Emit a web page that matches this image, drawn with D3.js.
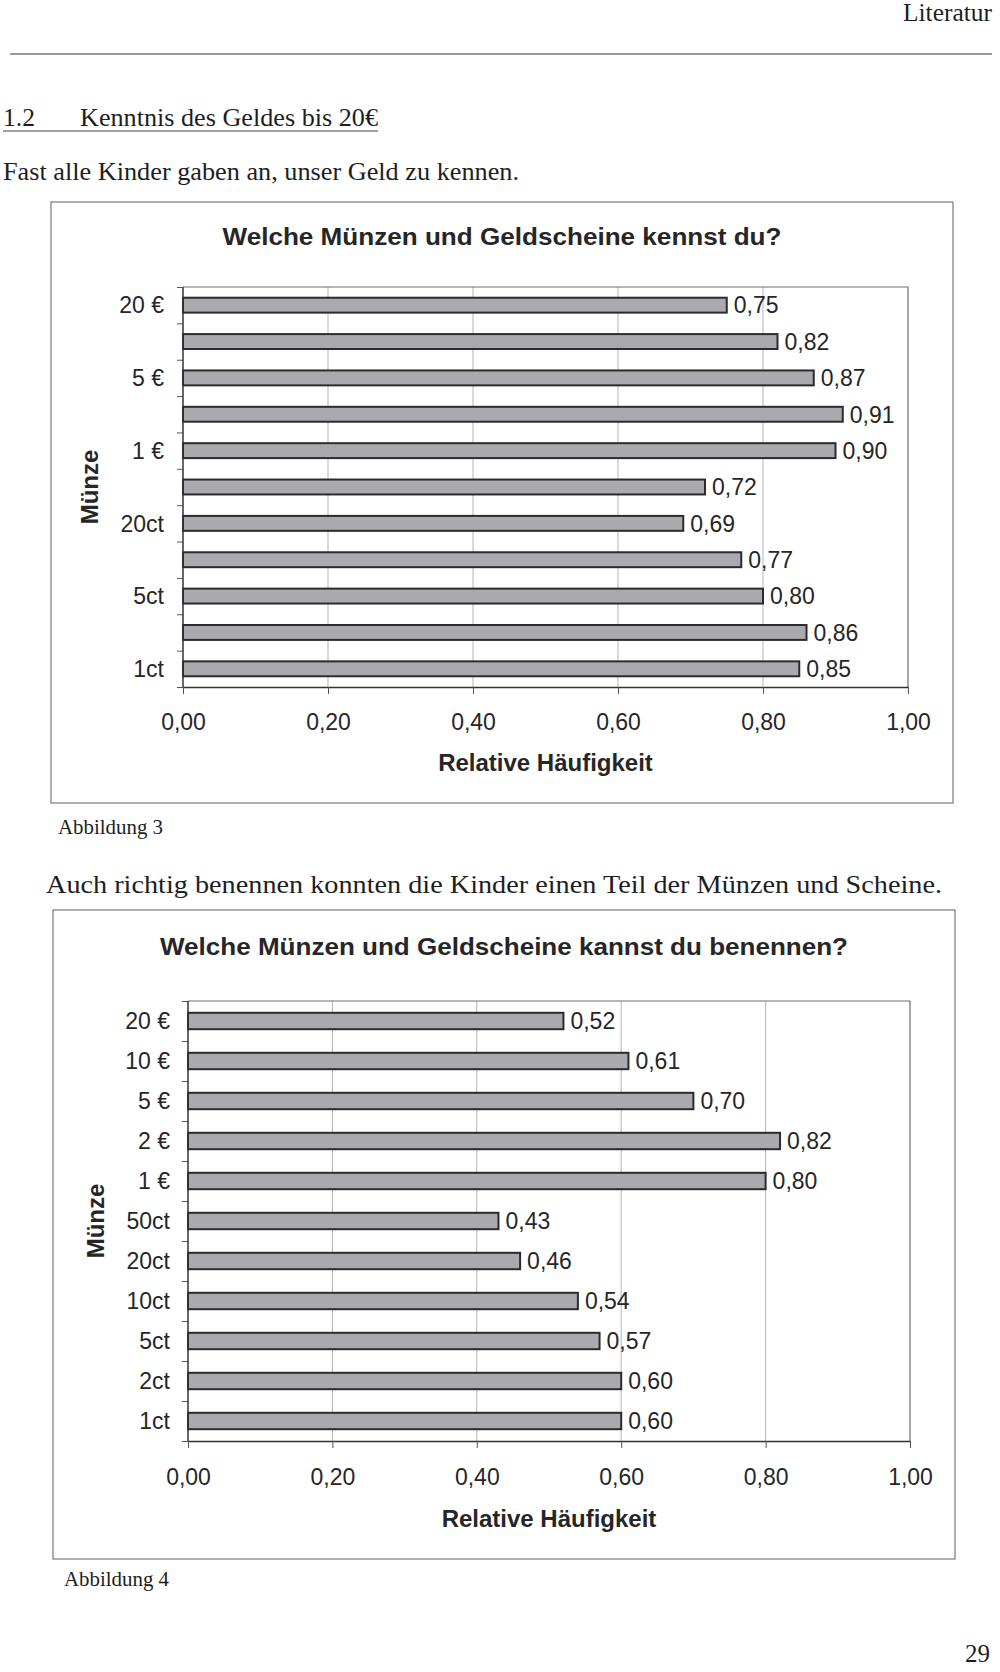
<!DOCTYPE html>
<html>
<head>
<meta charset="utf-8">
<script src="https://cdn.jsdelivr.net/npm/d3@7"></script>
<style>
  body { margin: 0; background: #fff; }
  svg { display: block; }
</style>
</head>
<body>
<svg id="page" width="1000" height="1672"></svg>
<script>
// categories (same for both charts)
var coins = ["20 €", "10 €", "5 €", "2 €", "1 €", "50ct", "20ct", "10ct", "5ct", "2ct", "1ct"];

// Abbildung 3 - "kennst du?"
var known = [0.75, 0.82, 0.87, 0.91, 0.90, 0.72, 0.69, 0.77, 0.80, 0.86, 0.85];

// Abbildung 4 - "kannst du benennen?"
var named = [0.52, 0.61, 0.70, 0.82, 0.80, 0.43, 0.46, 0.54, 0.57, 0.60, 0.60];

// x axis tick values
var xTicks = [0, 0.2, 0.4, 0.6, 0.8, 1.0];

var SANS = "'Liberation Sans', Arial, sans-serif",
    SERIF = "'Liberation Serif', 'Times New Roman', serif",
    INK = "#262626";

var svg = d3.select("#page");
svg.append("rect").attr("width", 1000).attr("height", 1672).attr("fill", "#fff");

var fmt = function(v) { return d3.format(".2f")(v).replace(".", ","); };

// plain serif text line (scanned text is narrow and tall, so squeeze it)
function serifText(x, y, str, size, anchor, len) {
  var t = svg.append("text")
    .attr("x", x).attr("y", y)
    .attr("font-family", SERIF)
    .attr("font-size", size)
    .attr("fill", "#1e1e1e")
    .attr("text-anchor", anchor || "start")
    .text(str);
  if (len) t.attr("textLength", len).attr("lengthAdjust", "spacingAndGlyphs");
  return t;
}

// page header
serifText(992, 21, "Literatur", 25, "end", 89);
svg.append("line")
  .attr("x1", 10).attr("x2", 992).attr("y1", 54).attr("y2", 54)
  .attr("stroke", "#777").attr("stroke-width", 1.3);

serifText(3, 126, "1.2", 26, "start", 32);
serifText(80, 126, "Kenntnis des Geldes bis 20€", 26, "start", 298);
svg.append("line")
  .attr("x1", 3).attr("x2", 378).attr("y1", 131).attr("y2", 131)
  .attr("stroke", "#444").attr("stroke-width", 1.2);

serifText(3, 180, "Fast alle Kinder gaben an, unser Geld zu kennen.", 26, "start", 516);

/*
 * draws one framed horizontal bar chart
 */
function barChart(cfg, values) {
  var g = svg.append("g");

  // outer frame
  g.append("rect")
    .attr("x", cfg.box[0]).attr("y", cfg.box[1])
    .attr("width", cfg.box[2] - cfg.box[0]).attr("height", cfg.box[3] - cfg.box[1])
    .attr("fill", "none").attr("stroke", "#7a7a7a").attr("stroke-width", 1.2);

  // title
  g.append("text")
    .attr("x", (cfg.box[0] + cfg.box[2]) / 2).attr("y", cfg.titleY)
    .attr("text-anchor", "middle")
    .attr("font-family", SANS).attr("font-weight", "bold").attr("font-size", 24)
    .attr("fill", INK)
    .attr("textLength", cfg.titleLen).attr("lengthAdjust", "spacingAndGlyphs")
    .text(cfg.title);

  var xScale = d3.scaleLinear().domain([0, 1]).range([cfg.left, cfg.right]),
      yScale = d3.scaleBand().domain(coins).range([cfg.top, cfg.bottom])
        .paddingInner(0.59).paddingOuter(0.295),
      yEdge = d3.scaleLinear().domain([0, coins.length]).range([cfg.top, cfg.bottom]);

  // vertical grid
  g.selectAll(".grid").data(xTicks.slice(1, -1)).enter().append("line")
    .attr("x1", function(d) { return xScale(d); })
    .attr("x2", function(d) { return xScale(d); })
    .attr("y1", cfg.top).attr("y2", cfg.bottom)
    .attr("stroke", "#b5b5b5").attr("stroke-width", 1);

  // plot border top + right
  g.append("path")
    .attr("d", "M" + cfg.left + "," + cfg.top + "H" + cfg.right + "V" + cfg.bottom)
    .attr("fill", "none").attr("stroke", "#6e6e6e").attr("stroke-width", 1.2);

  // bars
  g.selectAll(".bar").data(values).enter().append("rect")
    .attr("x", xScale(0))
    .attr("y", function(d, i) { return yScale(coins[i]); })
    .attr("width", function(d) { return xScale(d) - xScale(0); })
    .attr("height", yScale.bandwidth())
    .attr("fill", "#aaaaae")
    .attr("stroke", "#2b2b2b").attr("stroke-width", 2);

  // value labels
  g.selectAll(".val").data(values).enter().append("text")
    .attr("x", function(d) { return xScale(d) + 7; })
    .attr("y", function(d, i) { return yScale(coins[i]) + yScale.bandwidth() / 2; })
    .attr("dy", "0.36em")
    .attr("font-family", SANS).attr("font-size", 23).attr("fill", INK)
    .text(function(d) { return fmt(d); });

  // y axis: tick marks on band edges
  var yTickAxis = g.append("g")
    .attr("transform", "translate(" + cfg.left + ",0)")
    .call(d3.axisLeft(yEdge).ticks(coins.length).tickSize(6).tickFormat(""));
  yTickAxis.select(".domain").remove();
  yTickAxis.selectAll("line").attr("stroke", "#555");

  // y axis: category labels
  var yAxis = g.append("g")
    .attr("transform", "translate(" + cfg.left + ",0)")
    .call(d3.axisLeft(yScale).tickSize(0).tickPadding(cfg.left - cfg.labelX)
      .tickFormat(function(d, i) { return i % cfg.labelEvery === 0 ? d : ""; }));
  yAxis.select(".domain").remove();
  yAxis.selectAll("text")
    .attr("font-family", SANS).attr("font-size", 23).attr("fill", INK).attr("dy", "0.36em");

  g.append("line")
    .attr("x1", cfg.left).attr("x2", cfg.left).attr("y1", cfg.top).attr("y2", cfg.bottom)
    .attr("stroke", "#333").attr("stroke-width", 1.5);

  // x axis
  var xAxis = g.append("g")
    .attr("transform", "translate(0," + cfg.bottom + ")")
    .call(d3.axisBottom(xScale).tickValues(xTicks).tickSize(7).tickSizeOuter(0).tickFormat(fmt));
  xAxis.select(".domain").attr("stroke", "#333").attr("stroke-width", 1.5);
  xAxis.selectAll("line").attr("stroke", "#555");
  xAxis.selectAll("text")
    .attr("font-family", SANS).attr("font-size", 23).attr("fill", INK)
    .attr("y", cfg.tickBase - cfg.bottom).attr("dy", null);

  // axis titles
  g.append("text")
    .attr("x", (cfg.left + cfg.right) / 2).attr("y", cfg.xTitleY)
    .attr("text-anchor", "middle")
    .attr("font-family", SANS).attr("font-weight", "bold").attr("font-size", 24)
    .attr("fill", INK)
    .text("Relative Häufigkeit");

  g.append("text")
    .attr("transform", "translate(" + cfg.yTitleX + "," + (cfg.top + cfg.bottom) / 2 + ") rotate(-90)")
    .attr("text-anchor", "middle")
    .attr("font-family", SANS).attr("font-weight", "bold").attr("font-size", 24)
    .attr("fill", INK)
    .text("Münze");
}

barChart({
  box: [51, 202, 953, 803],
  title: "Welche Münzen und Geldscheine kennst du?", titleY: 245, titleLen: 559,
  left: 183, right: 908, top: 287, bottom: 687,
  labelX: 164, labelEvery: 2,
  tickBase: 730, xTitleY: 771, yTitleX: 98
}, known);

serifText(58, 834, "Abbildung 3", 21, "start", 105);
serifText(46, 893, "Auch richtig benennen konnten die Kinder einen Teil der Münzen und Scheine.", 26, "start", 896);

barChart({
  box: [53, 910, 955, 1559],
  title: "Welche Münzen und Geldscheine kannst du benennen?", titleY: 955, titleLen: 688,
  left: 188, right: 910, top: 1001, bottom: 1441,
  labelX: 170, labelEvery: 1,
  tickBase: 1485, xTitleY: 1527, yTitleX: 104
}, named);

serifText(64, 1586, "Abbildung 4", 21, "start", 105);
serifText(990, 1662, "29", 25, "end");
</script>
</body>
</html>
